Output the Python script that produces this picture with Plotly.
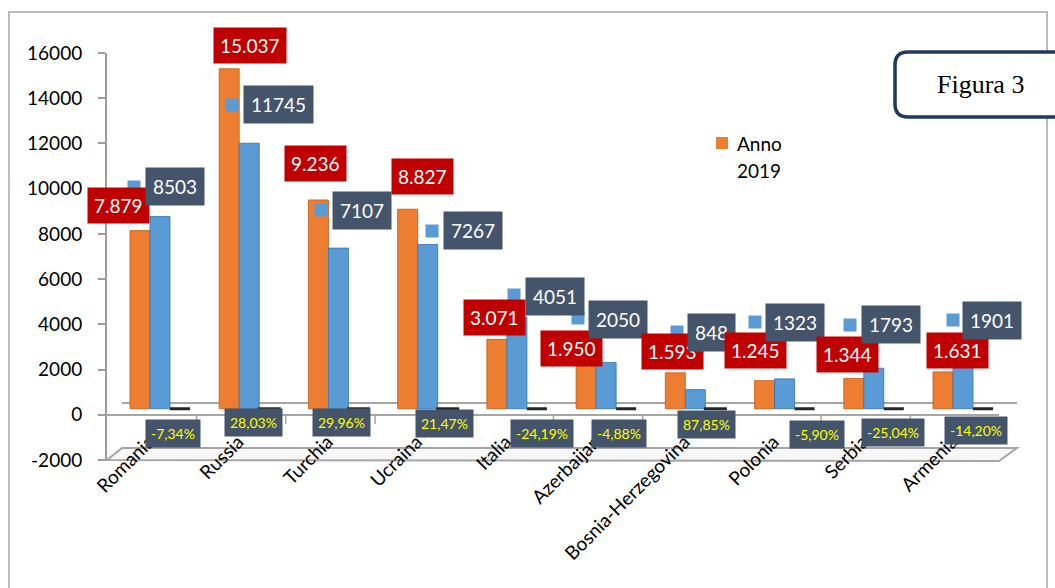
import plotly.graph_objects as go

# ---------------- data ----------------
countries = ["Romania", "Russia", "Turchia", "Ucraina", "Italia", "Azerbaijan",
             "Bosnia-Herzegovina", "Polonia", "Serbia", "Armenia"]
anno_2019 = [7879, 15037, 9236, 8827, 3071, 1950, 1593, 1245, 1344, 1631]
anno_2018 = [8503, 11745, 7107, 7267, 4051, 2050, 848, 1323, 1793, 1901]
variazione_pct = [-7.34, 28.03, 29.96, 21.47, -24.19, -4.88, 87.85, -5.90, -25.04, -14.20]
y_ticks = [-2000, 0, 2000, 4000, 6000, 8000, 10000, 12000, 14000, 16000]

# ---------------- layout helpers (pixel positions of the free-floating labels) --------------
W, H = 1055, 588
PL, PR, PT, PB = 107, 1017, 53, 460          # plot area in pixels


def px(x):
    return (x - PL) / (PR - PL)


def py(y):
    return (PB - y) / (PB - PT)


orange_label_pos = [(118, 206), (250, 46), (315, 163), (422, 176), (494, 317),
                    (571, 348), (672, 351), (755, 350), (847, 354), (957, 350)]
blue_label_pos = [(175, 187), (278, 105), (362, 210), (473, 231), (555, 296),
                  (618, 319), (711, 333), (795, 322), (891, 324), (992, 320)]
blue_key_pos = [(134, 187), (232, 105), (321, 210), (432, 231), (514, 295),
                (578, 318), (677, 332), (755, 322), (850, 325), (953, 320)]
pct_label_pos = [(173, 433), (253, 422), (341, 422), (444, 423), (542, 433),
                 (619, 433), (706, 424), (817, 434), (893, 432), (976, 430)]

ORANGE = "#ED7D31"
BLUE = "#5B9BD5"
SLATE = "#44546A"
RED = "#C00000"
FONT = "Lato"


def it_thousands(v):
    return f"{v:,}".replace(",", ".")


def it_pct(v):
    return f"{v:.2f}".replace(".", ",") + "%"


# ---------------- figure ----------------
fig = go.Figure()
fig.add_bar(x=countries, y=anno_2019, name="Anno 2019", marker_color=ORANGE,
            marker_line=dict(color="#C55A11", width=0.8), yaxis="y")
fig.add_bar(x=countries, y=anno_2018, name="Anno 2018", marker_color=BLUE,
            marker_line=dict(color="#2E75B6", width=0.8), yaxis="y")
fig.add_bar(x=countries, y=[v / 100 for v in variazione_pct], name="Variazione %",
            marker_color="#262626", marker_line=dict(color="#262626", width=3), yaxis="y")
# dummy trace so that the visible value axis is built
fig.add_scatter(x=[countries[0]], y=[0], mode="markers", marker=dict(opacity=0),
                yaxis="y2", showlegend=False, hoverinfo="skip")

shift_px = 6
units_per_px = 18000 / (PB - PT)
shift = shift_px * units_per_px

annotations = []
shapes = []

# value labels
for i in range(len(countries)):
    x, y = orange_label_pos[i]
    annotations.append(dict(xref="paper", yref="paper", x=px(x), y=py(y),
                            text=it_thousands(anno_2019[i]), showarrow=False,
                            font=dict(family=FONT, size=19, color="white"),
                            bgcolor=RED, borderpad=6, xanchor="center", yanchor="middle"))
    x, y = blue_label_pos[i]
    annotations.append(dict(xref="paper", yref="paper", x=px(x), y=py(y),
                            text=str(anno_2018[i]), showarrow=False,
                            font=dict(family=FONT, size=19, color="white"),
                            bgcolor=SLATE, borderpad=7, xanchor="center", yanchor="middle"))
    x, y = blue_key_pos[i]
    shapes.append(dict(type="rect", xref="paper", yref="paper",
                       x0=px(x - 6.5), x1=px(x + 6.5), y0=py(y + 6.5), y1=py(y - 6.5),
                       fillcolor=BLUE, line=dict(width=0)))
    x, y = pct_label_pos[i]
    annotations.append(dict(xref="paper", yref="paper", x=px(x), y=py(y),
                            text=it_pct(variazione_pct[i]), showarrow=False,
                            font=dict(family=FONT, size=14, color="#FFFF00"),
                            bgcolor=SLATE, borderpad=5, xanchor="center", yanchor="middle"))

GRAY = "#A6A6A6"
# outer chart border
shapes.insert(0, dict(type="rect", xref="paper", yref="paper", x0=px(9), x1=px(1047),
                      y0=py(620), y1=py(12), line=dict(color=GRAY, width=1.5), layer="below"))
# 3D floor plate
shapes.insert(1, dict(type="path", xref="paper", yref="paper",
                      path=f"M {px(107)},{py(460)} L {px(122)},{py(448)} L {px(1017)},{py(448)} "
                           f"L {px(999)},{py(461)} Z",
                      fillcolor="#F7F7F7", line=dict(color=GRAY, width=2), layer="below"))
# back and front zero lines
shapes.insert(2, dict(type="line", xref="paper", yref="paper", x0=px(122), x1=px(1017),
                      y0=py(403), y1=py(403), line=dict(color=GRAY, width=2), layer="below"))
shapes.insert(3, dict(type="line", xref="paper", yref="paper", x0=px(100), x1=px(999),
                      y0=py(415), y1=py(415), line=dict(color=GRAY, width=2), layer="below"))
step = (PR - PL) / 10.2
for k in range(1, 10):
    xx = 160 + step * (k - 0.5) - 8
    shapes.insert(4, dict(type="line", xref="paper", yref="paper", x0=px(xx), x1=px(xx),
                          y0=py(415), y1=py(424), line=dict(color=GRAY, width=1.5), layer="below"))

# "Figura 3" rounded box
x0, x1, y0, y1, r = 895, 1080, 52, 117, 13
path = (f"M {px(x0 + r)},{py(y0)} L {px(x1)},{py(y0)} L {px(x1)},{py(y1)} L {px(x0 + r)},{py(y1)} "
        f"Q {px(x0)},{py(y1)} {px(x0)},{py(y1 - r)} L {px(x0)},{py(y0 + r)} "
        f"Q {px(x0)},{py(y0)} {px(x0 + r)},{py(y0)} Z")
shapes.append(dict(type="path", xref="paper", yref="paper", path=path,
                   fillcolor="white", line=dict(color="#1F3864", width=3.5)))
annotations.append(dict(xref="paper", yref="paper", x=px(980), y=py(84), text="Figura 3",
                        showarrow=False, xanchor="center", yanchor="middle",
                        font=dict(family="Liberation Serif", size=26, color="black")))

# legend (custom)
shapes.append(dict(type="rect", xref="paper", yref="paper", x0=px(716), x1=px(728),
                   y0=py(149), y1=py(137), fillcolor=ORANGE, line=dict(width=0)))
annotations.append(dict(xref="paper", yref="paper", x=px(735), y=py(143), text="Anno",
                        showarrow=False, xanchor="left", yanchor="middle",
                        font=dict(family=FONT, size=19, color="black")))
annotations.append(dict(xref="paper", yref="paper", x=px(735), y=py(170), text="2019",
                        showarrow=False, xanchor="left", yanchor="middle",
                        font=dict(family=FONT, size=19, color="black")))

fig.update_layout(
    width=W, height=H,
    margin=dict(l=PL, r=W - PR, t=PT, b=H - PB, pad=0),
    paper_bgcolor="white", plot_bgcolor="rgba(0,0,0,0)",
    barmode="group", bargap=0.327, bargroupgap=0,
    showlegend=False,
    xaxis=dict(range=[-0.594, 9.605], anchor="free", position=(PB - 426) / (PB - PT),
               showline=False, showgrid=False, zeroline=False, ticks="",
               tickangle=-45, ticklabelshift=-11,
               tickfont=dict(family=FONT, size=19, color="black")),
    yaxis=dict(range=[-2000 - shift, 16000 - shift], visible=False, showgrid=False,
               zeroline=False),
    yaxis2=dict(range=[-2000, 16000], overlaying="y", anchor="x", side="left",
                tickvals=y_ticks, ticktext=[str(v) for v in y_ticks],
                showline=True, linecolor="#9E9E9E", linewidth=2,
                ticks="outside", ticklen=7, tickcolor="#9E9E9E", tickwidth=1.5,
                ticklabelstandoff=12, showgrid=False, zeroline=False,
                tickfont=dict(family=FONT, size=19, color="black")),
    shapes=shapes, annotations=annotations,
)

fig.write_html("out.html", config={"displayModeBar": False},
               post_script="document.body.style.margin='0';document.body.style.overflow='hidden';")
